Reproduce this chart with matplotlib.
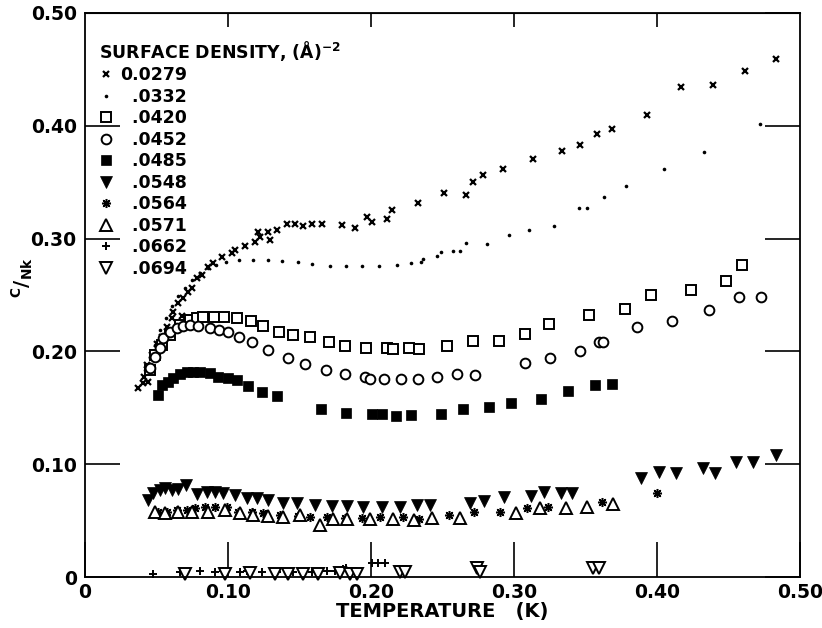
import numpy as np
import matplotlib.pyplot as plt

# surface densities (A^-2), legend labels
densities = ['0.0279', '  .0332', '  .0420', '  .0452', '  .0485',
             '  .0548', '  .0564', '  .0571', '  .0662', '  .0694']

# temperature (K) / C/Nk, one pair per density
t_0279 = [0.0371, 0.0406, 0.0413, 0.0441, 0.0434, 0.0469, 0.0503, 0.0538, 0.0573, 0.0608, 0.0615, 0.065,
          0.0678, 0.0685, 0.072, 0.0748, 0.0783, 0.0818, 0.086, 0.0895, 0.0958, 0.1028, 0.1049, 0.1119,
          0.1189, 0.121, 0.1224, 0.128, 0.1294, 0.1343, 0.1413, 0.1469, 0.1524, 0.1587, 0.1657, 0.1797,
          0.1888, 0.197, 0.2007, 0.2112, 0.2147, 0.2329, 0.251, 0.2664, 0.2713, 0.2783, 0.2923, 0.3133,
          0.3336, 0.3462, 0.358, 0.3685, 0.393, 0.4168, 0.439, 0.4615, 0.4832]
c_0279 = [0.168, 0.172, 0.177, 0.173, 0.188, 0.197, 0.207, 0.213, 0.222, 0.230, 0.235, 0.243,
          0.231, 0.247, 0.253, 0.256, 0.265, 0.268, 0.275, 0.278, 0.284, 0.287, 0.290, 0.293,
          0.297, 0.306, 0.301, 0.306, 0.299, 0.308, 0.313, 0.313, 0.311, 0.313, 0.313, 0.312,
          0.309, 0.319, 0.315, 0.317, 0.325, 0.332, 0.340, 0.339, 0.350, 0.356, 0.362, 0.371,
          0.378, 0.383, 0.393, 0.397, 0.410, 0.434, 0.436, 0.449, 0.459]

t_0332 = [0.042, 0.0455, 0.049, 0.0524, 0.0566, 0.0608, 0.065, 0.070, 0.0748, 0.0804, 0.086, 0.0916,
          0.0986, 0.108, 0.1175, 0.128, 0.1378, 0.149, 0.159, 0.1713, 0.1825, 0.1937, 0.2056, 0.2182,
          0.228, 0.235, 0.2364, 0.2462, 0.249, 0.2573, 0.2622, 0.2664, 0.2811, 0.2965, 0.3105, 0.328,
          0.3455, 0.351, 0.363, 0.3783, 0.405, 0.4329, 0.472]
c_0332 = [0.1835, 0.194, 0.2057, 0.219, 0.2296, 0.2402, 0.249, 0.256, 0.2633, 0.2695, 0.274, 0.2766,
          0.2793, 0.281, 0.281, 0.281, 0.280, 0.279, 0.2775, 0.2757, 0.2757, 0.2757, 0.2757, 0.2766,
          0.2784, 0.2793, 0.282, 0.2846, 0.288, 0.289, 0.289, 0.296, 0.2952, 0.3032, 0.3076, 0.3112,
          0.327, 0.327, 0.337, 0.3466, 0.3617, 0.3768, 0.4016]

t_0420 = [0.0455, 0.049, 0.0538, 0.0594, 0.0664, 0.0734, 0.0783, 0.0825, 0.090, 0.0972, 0.1063, 0.116,
          0.1245, 0.1357, 0.1455, 0.1573, 0.1706, 0.1818, 0.1965, 0.2112, 0.2154, 0.2266, 0.2336, 0.2531,
          0.2713, 0.2895, 0.3077, 0.3245, 0.3524, 0.3776, 0.3958, 0.4238, 0.4483, 0.4594]
c_0420 = [0.1835, 0.1968, 0.2057, 0.2145, 0.2234, 0.2278, 0.2296, 0.2305, 0.2305, 0.2305, 0.2296, 0.227,
          0.2225, 0.2172, 0.2145, 0.2128, 0.2083, 0.2048, 0.203, 0.203, 0.2021, 0.203, 0.2021, 0.2048,
          0.2092, 0.2092, 0.2154, 0.2243, 0.2323, 0.2376, 0.250, 0.2544, 0.2624, 0.2766]

t_0452 = [0.0455, 0.049, 0.0524, 0.0545, 0.0594, 0.0643, 0.0685, 0.0734, 0.079, 0.0874, 0.0937, 0.100,
          0.1077, 0.1168, 0.128, 0.142, 0.1538, 0.1685, 0.1818, 0.1958, 0.1993, 0.2091, 0.221, 0.2329,
          0.2462, 0.2601, 0.2727, 0.3077, 0.3252, 0.3462, 0.3594, 0.3622, 0.386, 0.4105, 0.4364, 0.4573,
          0.4727]
c_0452 = [0.1853, 0.195, 0.203, 0.2119, 0.2172, 0.2207, 0.2225, 0.2234, 0.2225, 0.2207, 0.219, 0.2172,
          0.2128, 0.2083, 0.2012, 0.1941, 0.1888, 0.1835, 0.180, 0.1773, 0.1755, 0.1755, 0.1755, 0.1755,
          0.1773, 0.180, 0.1791, 0.1897, 0.1941, 0.2004, 0.2083, 0.2083, 0.2216, 0.2269, 0.2367, 0.2482,
          0.2482]

t_0485 = [0.051, 0.0538, 0.058, 0.0615, 0.0664, 0.0713, 0.0755, 0.0804, 0.0874, 0.093, 0.100, 0.1063,
          0.114, 0.1238, 0.1343, 0.165, 0.1825, 0.2007, 0.2077, 0.2175, 0.228, 0.249, 0.2643, 0.2825,
          0.2979, 0.3189, 0.3378, 0.3566, 0.3685]
c_0485 = [0.1613, 0.170, 0.1729, 0.1764, 0.180, 0.1817, 0.1817, 0.1817, 0.1809, 0.1773, 0.1764, 0.1746,
          0.1693, 0.164, 0.1605, 0.149, 0.1454, 0.1445, 0.1445, 0.1427, 0.1436, 0.1445, 0.1489, 0.1507,
          0.1543, 0.1578, 0.1649, 0.1702, 0.1711]

t_0548 = [0.0441, 0.0476, 0.0524, 0.0559, 0.0608, 0.065, 0.0706, 0.0783, 0.0853, 0.0909, 0.0965, 0.1049,
          0.1133, 0.1203, 0.128, 0.1385, 0.1483, 0.1608, 0.1727, 0.1832, 0.1944, 0.2077, 0.2203, 0.2322,
          0.2413, 0.2692, 0.279, 0.293, 0.3119, 0.321, 0.3329, 0.3406, 0.3888, 0.4014, 0.4133, 0.4322,
          0.4406, 0.4552, 0.4671, 0.4832]
c_0548 = [0.0683, 0.0745, 0.0771, 0.0789, 0.0771, 0.078, 0.0816, 0.0736, 0.0754, 0.0754, 0.0745, 0.0727,
          0.070, 0.070, 0.0683, 0.0656, 0.0656, 0.0638, 0.0629, 0.0629, 0.062, 0.062, 0.062, 0.0638,
          0.0638, 0.0656, 0.0674, 0.0709, 0.0718, 0.0754, 0.0745, 0.0745, 0.0878, 0.0931, 0.0922, 0.0966,
          0.0922, 0.102, 0.102, 0.1082]

t_0564 = [0.051, 0.0573, 0.0643, 0.0713, 0.0769, 0.0839, 0.0909, 0.0993, 0.107, 0.1168, 0.1245, 0.1364,
          0.149, 0.1573, 0.1692, 0.1818, 0.1937, 0.2063, 0.2224, 0.2336, 0.2545, 0.272, 0.2902, 0.3091,
          0.3238, 0.3615, 0.400]
c_0564 = [0.0576, 0.0576, 0.0594, 0.0594, 0.0612, 0.062, 0.062, 0.062, 0.0576, 0.0576, 0.0567, 0.055,
          0.0541, 0.0532, 0.0532, 0.0523, 0.0523, 0.0532, 0.0532, 0.0514, 0.055, 0.0576, 0.0576, 0.0612,
          0.062, 0.0665, 0.0745]

t_0571 = [0.049, 0.056, 0.065, 0.0748, 0.086, 0.0979, 0.1084, 0.1175, 0.128, 0.1385, 0.1503, 0.1643,
          0.1734, 0.1832, 0.1993, 0.2154, 0.230, 0.2427, 0.2622, 0.3014, 0.3182, 0.3364, 0.351, 0.3692]
c_0571 = [0.0576, 0.0567, 0.0576, 0.0576, 0.0576, 0.0594, 0.0567, 0.055, 0.0541, 0.0532, 0.055, 0.0461,
          0.0514, 0.0514, 0.0514, 0.0514, 0.0505, 0.0523, 0.0523, 0.0567, 0.0612, 0.0612, 0.062, 0.0647]

t_0662 = [0.0476, 0.0664, 0.0804, 0.0909, 0.0965, 0.1084, 0.1133, 0.1238, 0.1343, 0.1455, 0.1517, 0.1587,
          0.1692, 0.1748, 0.1804, 0.1825, 0.2007, 0.2049, 0.2098]
c_0662 = [0.0027, 0.0044, 0.0053, 0.0044, 0.0053, 0.0044, 0.0053, 0.0044, 0.0044, 0.0044, 0.0044, 0.0044,
          0.0053, 0.0053, 0.0071, 0.008, 0.0124, 0.0124, 0.0124]

t_0694 = [0.0699, 0.0979, 0.1154, 0.1329, 0.142, 0.1524, 0.1629, 0.1783, 0.1853, 0.1902, 0.2203, 0.2238,
          0.2741, 0.2762, 0.3552, 0.3594]
c_0694 = [0.0027, 0.0027, 0.0035, 0.0027, 0.0027, 0.0027, 0.0027, 0.0035, 0.0027, 0.0027, 0.0044, 0.0044,
          0.008, 0.0044, 0.008, 0.008]

temps = [t_0279, t_0332, t_0420, t_0452, t_0485, t_0548, t_0564, t_0571, t_0662, t_0694]
heats = [c_0279, c_0332, c_0420, c_0452, c_0485, c_0548, c_0564, c_0571, c_0662, c_0694]

x_ticks = [0, 0.1, 0.2, 0.3, 0.4, 0.5]
x_labels = ['0', '0.10', '0.20', '0.30', '0.40', '0.50']
y_ticks = [0, 0.1, 0.2, 0.3, 0.4, 0.5]
y_labels = ['0', '0.10', '0.20', '0.30', '0.40', '0.50']

# marker style for every series
styles = [
    dict(marker='x', ms=5, mew=1.6, color='k'),
    dict(marker='o', ms=2.6, mew=0, color='k'),
    dict(marker='s', ms=6.5, mew=1.4, mfc='white', mec='k'),
    dict(marker='o', ms=7, mew=1.4, mfc='white', mec='k'),
    dict(marker='s', ms=7, mew=0.5, color='k'),
    dict(marker='v', ms=8, mew=0.5, color='k'),
    dict(marker=(8, 2, 0), ms=6.5, mew=1.1, color='k'),
    dict(marker='^', ms=8, mew=1.4, mfc='white', mec='k'),
    dict(marker='+', ms=6, mew=1.4, color='k'),
    dict(marker='v', ms=8, mew=1.4, mfc='white', mec='k'),
]

plt.rcParams['font.family'] = 'DejaVu Sans'
plt.rcParams['font.weight'] = 'bold'
plt.rcParams['axes.labelweight'] = 'bold'
plt.rcParams['mathtext.default'] = 'regular'

fig = plt.figure(figsize=(8.22, 6.28), dpi=100)
ax = fig.add_axes([0.1034, 0.0812, 0.8698, 0.8981])

for t, c, lab, st in zip(temps, heats, densities, styles):
    ax.plot(t, c, ls='none', label=lab, clip_on=False, **st)

ax.set_xlim(0, 0.5)
ax.set_ylim(0, 0.5)
ax.set_xticks(x_ticks)
ax.set_xticklabels(x_labels, fontsize=13.5)
ax.set_yticks(y_ticks)
ax.set_yticklabels(y_labels, fontsize=13.5)
ax.tick_params(direction='in', length=25, width=1.2, right=True, pad=4)
ax.tick_params(axis='y', pad=6)
for s in ax.spines.values():
    s.set_linewidth(1.3)

top = ax.secondary_xaxis('top')
top.set_xticks(x_ticks[1:-1])
top.tick_params(direction='in', length=10, width=1.2, labeltop=False)

ax.set_xlabel('TEMPERATURE   (K)', fontsize=14, labelpad=0)
ax.set_ylabel(r'$^{C}/_{Nk}$', fontsize=14)
ax.yaxis.set_label_coords(-0.07, 0.53)

leg = ax.legend(loc='upper left', bbox_to_anchor=(0.02, 0.954), frameon=False,
                title=r'SURFACE DENSITY, (Å)$^{-2}$', alignment='left',
                fontsize=12.5, title_fontsize=12.5, handlelength=0.8,
                handletextpad=0.4, labelspacing=0.2, borderaxespad=0,
                borderpad=0)

fig.savefig('out.png', dpi=100)
